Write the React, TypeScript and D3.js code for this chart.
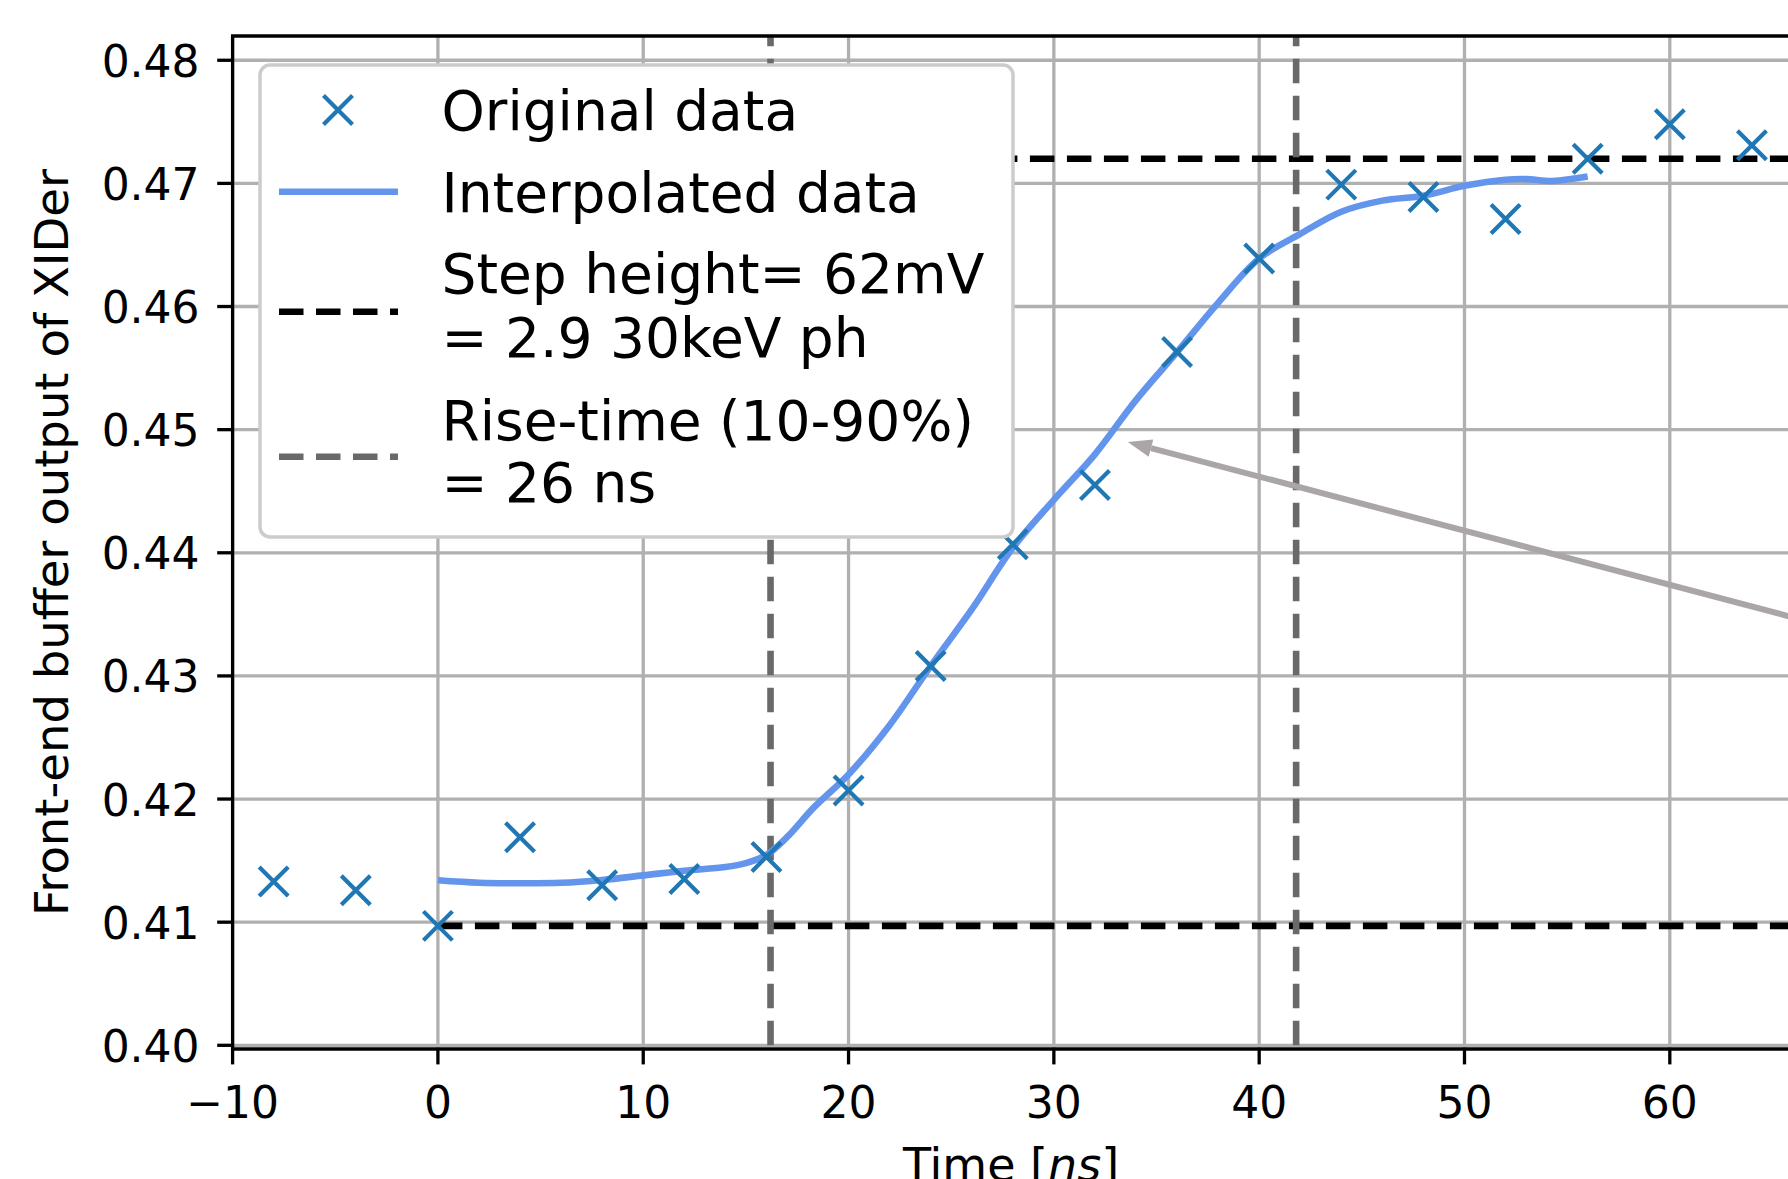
import React from "react";
import * as d3 from "d3";

// sampled points (ns, V)
const sampleTimes = [-8, -4, 0, 4, 8, 12, 16, 20, 24, 28, 32, 36, 40, 44, 48, 52, 56, 60, 64];
const sampleValues = [
  0.4133, 0.4126, 0.4097, 0.4169, 0.413, 0.4135, 0.4153, 0.4207, 0.4308, 0.4407,
  0.4455, 0.4563, 0.4639, 0.4699, 0.4689, 0.4671, 0.472, 0.4748, 0.4731,
];

// interpolated trace
const interpTimes = [
  0, 2, 4, 6, 8, 10, 12, 14, 15, 16, 17, 18.3, 20, 22, 24, 26, 28, 30, 32, 34, 36, 38, 40,
  42, 44, 46, 48, 50, 52, 53, 54.3, 56,
];
const interpValues = [
  0.4134, 0.4132, 0.41316, 0.4132, 0.41343, 0.4138, 0.41418, 0.41448, 0.4148, 0.41546,
  0.4169, 0.4193, 0.422, 0.426, 0.4308, 0.4354, 0.4404, 0.4443, 0.448, 0.4524, 0.4563,
  0.4603, 0.4639, 0.4659, 0.4677, 0.4686, 0.469, 0.4698, 0.4703, 0.47035, 0.4702, 0.47055,
];

const stepLevels = [0.4097, 0.472];
const stepStart = 0;
const riseEdges = [16.2, 41.8];

const xTicks = [-10, 0, 10, 20, 30, 40, 50, 60];
const yTicks = [0.4, 0.41, 0.42, 0.43, 0.44, 0.45, 0.46, 0.47, 0.48];

const legendRows = [
  ["Original data"],
  ["Interpolated data"],
  ["Step height= 62mV", "= 2.9 30keV ph"],
  ["Rise-time (10-90%)", "= 26 ns"],
];

const arrowTip = [33.6, 0.449];
const arrowTail = [75, 0.4308];

const W = 1788;
const H = 1179;
const plot = { left: 232.6, top: 36, right: 1793, bottom: 1049 };
const font = "'DejaVu Sans', sans-serif";
const blue = "#1f77b4";
const lineBlue = "#6495ed";
const gray = "#696969";
const gridColor = "#b0b0b0";

const XMark = ({ x, y, r = 14.5 }) => (
  <path
    d={`M${x - r},${y - r}L${x + r},${y + r}M${x - r},${y + r}L${x + r},${y - r}`}
    stroke={blue}
    strokeWidth={4.2}
    fill="none"
  />
);

export default function App() {
  const x = d3.scaleLinear().domain([-10, 66]).range([plot.left, plot.right]);
  const y = d3.scaleLinear().domain([0.3997, 0.48197]).range([plot.bottom, plot.top]);

  const line = d3
    .line<number>()
    .x((_, i) => x(interpTimes[i]))
    .y((d) => y(d))
    .curve(d3.curveCatmullRom.alpha(0.5));

  const fmtX = (d: number) => (d < 0 ? "\u2212" + Math.abs(d) : String(d));

  // arrow geometry
  const tip = [x(arrowTip[0]), y(arrowTip[1])];
  const tail = [x(arrowTail[0]), y(arrowTail[1])];
  const len = Math.hypot(tail[0] - tip[0], tail[1] - tip[1]);
  const ux = (tail[0] - tip[0]) / len;
  const uy = (tail[1] - tip[1]) / len;
  const headLen = 24;
  const headHalf = 9;
  const base = [tip[0] + ux * headLen, tip[1] + uy * headLen];
  const head = `M${tip[0]},${tip[1]}L${base[0] - uy * headHalf},${base[1] + ux * headHalf}L${
    base[0] + uy * headHalf
  },${base[1] - ux * headHalf}Z`;

  // legend layout
  const lg = { x: 260, y: 65, w: 753, h: 472 };
  const handleY = [110, 191.7, 311.7, 456.7];
  const baselines = [[130], [211.7], [293.3, 356.7], [440, 501.7]];
  const textX = 441.5;

  return (
    <svg
      width={W}
      height={H}
      style={{ position: "absolute", left: 0, top: 0, display: "block", background: "#fff" }}
      fontFamily={font}
    >
      <defs>
        <clipPath id="axes-clip">
          <rect x={plot.left} y={plot.top} width={plot.right - plot.left} height={plot.bottom - plot.top} />
        </clipPath>
      </defs>
      <rect width={W} height={H} fill="#fff" />

      {/* grid */}
      <g clipPath="url(#axes-clip)" stroke={gridColor} strokeWidth={3.3}>
        {xTicks.map((t) => (
          <line key={"gx" + t} x1={x(t)} x2={x(t)} y1={plot.top} y2={plot.bottom} />
        ))}
        {yTicks.map((t) => (
          <line key={"gy" + t} x1={plot.left} x2={plot.right} y1={y(t)} y2={y(t)} />
        ))}
      </g>

      {/* step and rise-time markers */}
      <g clipPath="url(#axes-clip)">
        {stepLevels.map((v) => (
          <line
            key={"s" + v}
            x1={x(stepStart)}
            x2={x(70)}
            y1={y(v)}
            y2={y(v)}
            stroke="#000"
            strokeWidth={6.6}
            strokeDasharray="24.5 12.5"
          />
        ))}
        {riseEdges.map((t) => (
          <line
            key={"r" + t}
            x1={x(t)}
            x2={x(t)}
            y1={y(0.4)}
            y2={plot.top}
            stroke={gray}
            strokeWidth={6.6}
            strokeDasharray="24.5 12.5"
          />
        ))}
        <path d={line(interpValues) || ""} fill="none" stroke={lineBlue} strokeWidth={6.6} />
        {sampleValues.map((v, i) => (
          <XMark key={"m" + i} x={x(sampleTimes[i])} y={y(v)} />
        ))}
      </g>

      {/* spines */}
      <g stroke="#000" strokeWidth={3.3} fill="none">
        <line x1={plot.left} x2={plot.left} y1={plot.top} y2={plot.bottom + 1.6} />
        <line x1={plot.left - 1.6} x2={W} y1={plot.top} y2={plot.top} />
        <line x1={plot.left - 1.6} x2={W} y1={plot.bottom} y2={plot.bottom} />
      </g>

      {/* ticks */}
      <g stroke="#000" strokeWidth={3.3}>
        {xTicks.map((t) => (
          <line key={"tx" + t} x1={x(t)} x2={x(t)} y1={plot.bottom} y2={plot.bottom + 15.4} />
        ))}
        {yTicks.map((t) => (
          <line key={"ty" + t} x1={plot.left - 15.4} x2={plot.left} y1={y(t)} y2={y(t)} />
        ))}
      </g>
      <g fontSize={44} fill="#000">
        {xTicks.map((t) => (
          <text key={"lx" + t} x={x(t)} y={plot.bottom + 69} textAnchor="middle">
            {fmtX(t)}
          </text>
        ))}
        {yTicks.map((t) => (
          <text key={"ly" + t} x={plot.left - 33} y={y(t) + 16.5} textAnchor="end">
            {t.toFixed(2)}
          </text>
        ))}
      </g>

      {/* axis labels */}
      <text x={1011} y={1181} fontSize={46} textAnchor="middle">
        Time [<tspan fontStyle="italic">ns</tspan>]
      </text>
      <text transform={`translate(68, ${(plot.top + plot.bottom) / 2}) rotate(-90)`} fontSize={46.5} textAnchor="middle">
        Front-end buffer output of XIDer
      </text>

      {/* annotation arrow */}
      <g fill="#aaa6a6" stroke="#aaa6a6">
        <line x1={base[0]} y1={base[1]} x2={tail[0]} y2={tail[1]} strokeWidth={6} />
        <path d={head} stroke="none" />
      </g>

      {/* legend */}
      <rect x={lg.x} y={lg.y} width={lg.w} height={lg.h} rx={10} fill="#fff" stroke="#cccccc" strokeWidth={3.5} />
      <XMark x={338} y={handleY[0]} />
      <line x1={279} x2={398} y1={handleY[1]} y2={handleY[1]} stroke={lineBlue} strokeWidth={6.6} />
      <line x1={279} x2={398} y1={handleY[2]} y2={handleY[2]} stroke="#000" strokeWidth={6.6} strokeDasharray="24.5 12.5" />
      <line x1={279} x2={398} y1={handleY[3]} y2={handleY[3]} stroke={gray} strokeWidth={6.6} strokeDasharray="24.5 12.5" />
      <g fontSize={55} fill="#000">
        {legendRows.map((rows, i) =>
          rows.map((s, j) => (
            <text key={"lg" + i + j} x={textX} y={baselines[i][j]}>
              {s}
            </text>
          ))
        )}
      </g>
    </svg>
  );
}
